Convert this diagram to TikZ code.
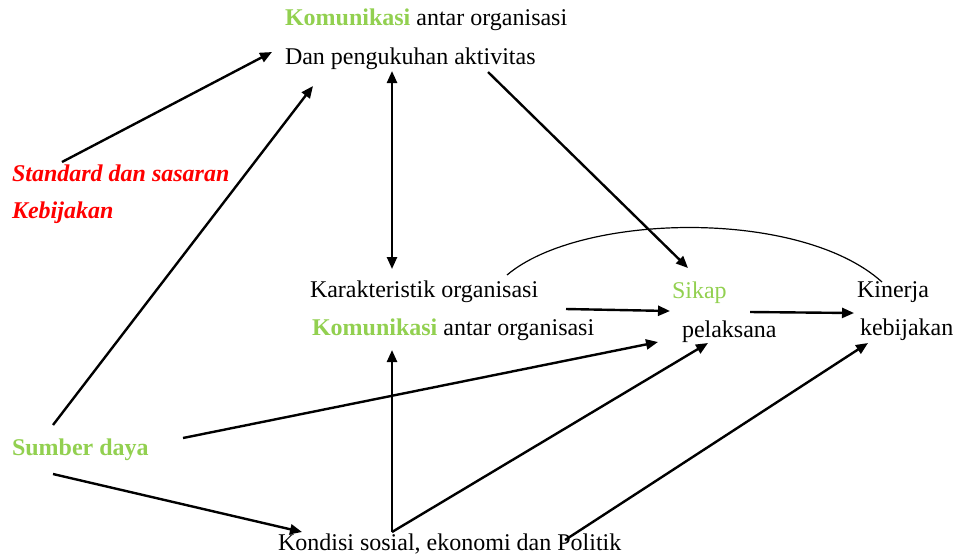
\documentclass[tikz,border=0pt]{standalone}
\usepackage{fontspec}
\setmainfont{Liberation Serif}
\usetikzlibrary{arrows.meta,calc}
\definecolor{kgreen}{RGB}{146,208,80}
\definecolor{kred}{RGB}{255,0,0}
\tikzset{
  lbl/.style={anchor=base west,inner sep=0pt,outer sep=0pt,font=\fontsize{12}{14}\selectfont},
  conn/.style={line width=1.2pt,-{Triangle[length=6pt,width=5pt]}},
  dconn/.style={line width=1.2pt,{Triangle[length=6pt,width=5pt]}-{Triangle[length=6pt,width=5pt]}},
  arcline/.style={line width=0.6pt}
}
\begin{document}
\begin{tikzpicture}[x=0.5pt,y=-0.5pt]
\useasboundingbox (0,0) rectangle (956,553);
% nodes
\node[lbl] (k1) at (285,25) {\textcolor{kgreen}{\textbf{Komunikasi}} antar organisasi};
\node[lbl] (dan) at (285,64) {Dan pengukuhan aktivitas};
\node[lbl,text=kred,font=\fontsize{12}{14}\selectfont\bfseries\itshape] (std) at (12,181) {Standard dan sasaran};
\node[lbl,text=kred,font=\fontsize{12}{14}\selectfont\bfseries\itshape] (keb) at (12,218) {Kebijakan};
\node[lbl] (kar) at (310,297) {Karakteristik organisasi};
\node[lbl] (k2) at (312,335) {\textcolor{kgreen}{\textbf{Komunikasi}} antar organisasi};
\node[lbl,text=kgreen] (sik) at (672,298) {Sikap};
\node[lbl] (pel) at (682,337) {pelaksana};
\node[lbl] (kin) at (857,297) {Kinerja};
\node[lbl] (kbj) at (860,335) {kebijakan};
\node[lbl,text=kgreen,font=\fontsize{12}{14}\selectfont\bfseries] (sum) at (12,455) {Sumber daya};
\node[lbl] (kon) at (278,550) {Kondisi sosial, ekonomi dan Politik};
% connectors
\draw[conn] ($(std.base west)+(50,-19)$) -- ($(dan.base west)+(-13,-12)$);
\draw[conn] ($(sum.base west)+(41,-30)$) -- ($(dan.base west)+(28,22)$);
\draw[dconn] ($(dan.base west)+(107,7)$) -- ($(kar.base west)+(82,-28)$);
\draw[conn] ($(dan.base west)+(203,8)$) -- ($(sik.base west)+(16,-30)$);
\draw[arcline] ($(kar.base west)+(197,-22)$) .. controls (580,213) and (800,208) .. ($(kin.base west)+(25,-15)$);
\draw[conn] ($(kar.base west)+(256,12)$) -- ($(sik.base west)+(-2,13)$);
\draw[conn] ($(sik.base west)+(78,14)$) -- ($(kin.base west)+(-3,16)$);
\draw[conn] ($(sum.base west)+(171,-17)$) -- ($(pel.base west)+(-24,5)$);
\draw[conn] ($(kon.base west)+(114,-18)$) -- ($(k2.base west)+(80,15)$);
\draw[conn] ($(kon.base west)+(114,-18)$) -- ($(pel.base west)+(26,6)$);
\draw[conn] ($(kon.base west)+(287,-10)$) -- ($(kbj.base west)+(8,8)$);
\draw[conn] ($(sum.base west)+(41,19)$) -- ($(kon.base west)+(24,-18)$);
\end{tikzpicture}
\end{document}
